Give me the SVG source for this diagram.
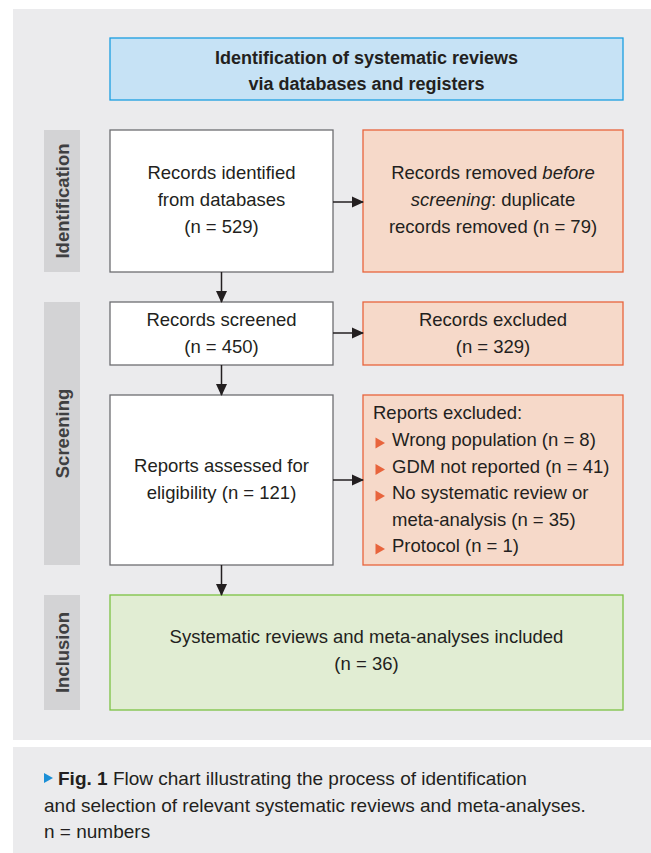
<svg xmlns="http://www.w3.org/2000/svg" width="651" height="853" viewBox="0 0 651 853">
<defs>
<style>
text{font-family:"Liberation Sans",Arial,sans-serif;fill:#231f20;}
.t{font-size:18.5px;text-anchor:middle;}
.hd{font-size:18px;font-weight:bold;text-anchor:middle;}
.side{font-size:18.5px;font-weight:bold;fill:#3f3f41;text-anchor:middle;}
.sidebg{fill:#d3d3d5;}
.wbox{fill:#ffffff;stroke:#6d6e71;stroke-width:1.3;}
.obox{fill:#f6d9c9;stroke:#e8643c;stroke-width:1.3;}
.conn{stroke:#231f20;stroke-width:1.5;fill:none;}
.bul{fill:#e8643c;}
.lt{font-size:18.5px;}
.cap{font-size:19px;}
</style>
<marker id="ah" markerWidth="12" markerHeight="12" refX="11" refY="6" orient="auto" markerUnits="userSpaceOnUse">
<path d="M0,0.5 L12,6 L0,11.5 Z" fill="#231f20"/>
</marker>
</defs>
<rect x="0" y="0" width="651" height="853" fill="#ffffff"/>
<rect x="13" y="9" width="638" height="731" fill="#ebebed"/>
<rect x="13" y="747" width="638" height="106" fill="#ebebed"/>

<g id="header">
<rect x="110" y="38" width="513" height="62" fill="#c6e2f5" stroke="#1b9ee0" stroke-width="1.3"/>
<text class="hd" x="366.5" y="64">Identification of systematic reviews</text>
<text class="hd" x="366.5" y="90">via databases and registers</text>
</g>

<g id="label-identification">
<rect class="sidebg" x="44" y="130" width="36" height="142"/>
<text class="side" transform="translate(68.5,201) rotate(-90)">Identification</text>
</g>
<g id="label-screening">
<rect class="sidebg" x="44" y="302" width="36" height="263"/>
<text class="side" transform="translate(68.5,433.5) rotate(-90)">Screening</text>
</g>
<g id="label-inclusion">
<rect class="sidebg" x="44" y="595" width="36" height="115"/>
<text class="side" transform="translate(68.5,652.5) rotate(-90)">Inclusion</text>
</g>

<g id="records-identified">
<rect class="wbox" x="110" y="130" width="223" height="142"/>
<text class="t" x="221.5" y="179">Records identified</text>
<text class="t" x="221.5" y="206">from databases</text>
<text class="t" x="221.5" y="233">(n = 529)</text>
</g>

<g id="records-removed">
<rect class="obox" x="363" y="130" width="260" height="142"/>
<text class="t" x="493" y="179">Records removed <tspan font-style="italic">before</tspan></text>
<text class="t" x="493" y="206"><tspan font-style="italic">screening</tspan>: duplicate</text>
<text class="t" x="493" y="233">records removed (n = 79)</text>
</g>

<g id="records-screened">
<rect class="wbox" x="110" y="302" width="223" height="63"/>
<text class="t" x="221.5" y="326">Records screened</text>
<text class="t" x="221.5" y="353">(n = 450)</text>
</g>

<g id="records-excluded">
<rect class="obox" x="363" y="302" width="260" height="63"/>
<text class="t" x="493" y="326">Records excluded</text>
<text class="t" x="493" y="353">(n = 329)</text>
</g>

<g id="reports-assessed">
<rect class="wbox" x="110" y="395" width="223" height="170"/>
<text class="t" x="221.5" y="472">Reports assessed for</text>
<text class="t" x="221.5" y="499">eligibility (n = 121)</text>
</g>

<g id="reports-excluded">
<rect class="obox" x="363" y="395" width="260" height="170"/>
<text class="lt" x="373" y="419">Reports excluded:</text>
<path class="bul" d="M375.5,437.5 L385,443 L375.5,448.5 Z"/>
<text class="lt" x="392" y="446">Wrong population (n = 8)</text>
<path class="bul" d="M375.5,464 L385,469.5 L375.5,475 Z"/>
<text class="lt" x="392" y="472.5">GDM not reported (n = 41)</text>
<path class="bul" d="M375.5,490.5 L385,496 L375.5,501.5 Z"/>
<text class="lt" x="392" y="499">No systematic review or</text>
<text class="lt" x="392" y="525.5">meta-analysis (n = 35)</text>
<path class="bul" d="M375.5,543.5 L385,549 L375.5,554.5 Z"/>
<text class="lt" x="392" y="552">Protocol (n = 1)</text>
</g>

<g id="included">
<rect x="110" y="595" width="513" height="115" fill="#e1edd3" stroke="#7cc243" stroke-width="1.3"/>
<text class="t" x="366.5" y="643">Systematic reviews and meta-analyses included</text>
<text class="t" x="366.5" y="670">(n = 36)</text>
</g>

<g id="connectors">
<line class="conn" x1="333" y1="202" x2="363" y2="202" marker-end="url(#ah)"/>
<line class="conn" x1="221.5" y1="272" x2="221.5" y2="302" marker-end="url(#ah)"/>
<line class="conn" x1="333" y1="333" x2="363" y2="333" marker-end="url(#ah)"/>
<line class="conn" x1="221.5" y1="365" x2="221.5" y2="395" marker-end="url(#ah)"/>
<line class="conn" x1="333" y1="480" x2="363" y2="480" marker-end="url(#ah)"/>
<line class="conn" x1="221.5" y1="565" x2="221.5" y2="595" marker-end="url(#ah)"/>
</g>

<g id="caption">
<path d="M44,773 L53,778 L44,783 Z" fill="#1b8fd6"/>
<text class="cap" x="58" y="785"><tspan font-weight="bold">Fig. 1</tspan>  Flow chart illustrating the process of identification</text>
<text class="cap" x="44" y="812">and selection of relevant systematic reviews and meta-analyses.</text>
<text class="cap" x="44" y="838">n = numbers</text>
</g>
</svg>
